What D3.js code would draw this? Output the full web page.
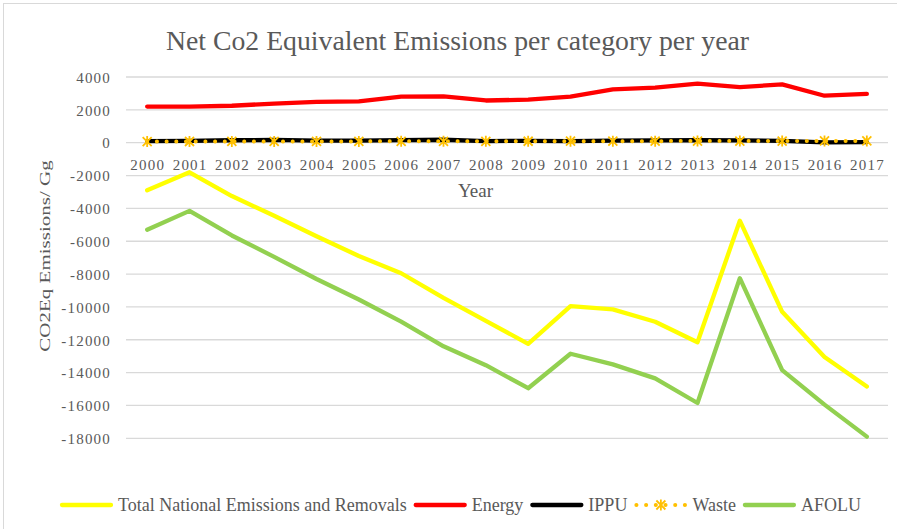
<!DOCTYPE html>
<html>
<head>
<meta charset="utf-8">
<script src="https://cdn.jsdelivr.net/npm/d3@7/dist/d3.min.js"></script>
<style>
  body { margin: 0; background: #fff; }
  svg { display: block; }
</style>
</head>
<body>
<div class="box"></div>
<script>
let years = ["2000", "2001", "2002", "2003", "2004", "2005", "2006", "2007", "2008",
             "2009", "2010", "2011", "2012", "2013", "2014", "2015", "2016", "2017"]

let total = [-2900, -1800, -3250, -4450, -5700, -6900, -7950, -9450, -10850,
             -12250, -9950, -10150, -10900, -12150, -4750, -10300, -13050, -14850]
let energy = [2200, 2200, 2250, 2380, 2480, 2520, 2800, 2820, 2570,
              2620, 2800, 3250, 3350, 3600, 3380, 3550, 2860, 2970]
let ippu = [100, 110, 150, 170, 130, 120, 160, 180, 100,
            110, 100, 130, 140, 150, 140, 110, 20, 40]
let waste = [70, 72, 75, 74, 78, 80, 83, 85, 84,
             88, 90, 93, 95, 97, 99, 102, 104, 106]
let afolu = [-5300, -4150, -5650, -6950, -8300, -9550, -10900, -12400, -13550,
             -14950, -12850, -13500, -14350, -15850, -8250, -13850, -15950, -17900]

let yTicks = [4000, 2000, 0, -2000, -4000, -6000, -8000, -10000, -12000,
              -14000, -16000, -18000]

let series = [
    {name: "Total National Emissions and Removals", values: total, color: "#ffff00", kind: "line"},
    {name: "Energy", values: energy, color: "#ff0000", kind: "line"},
    {name: "IPPU", values: ippu, color: "#000000", kind: "line"},
    {name: "Waste", values: waste, color: "#ffc000", kind: "dots"},
    {name: "AFOLU", values: afolu, color: "#92d050", kind: "line"},
]

let W = 897
let H = 529
let textCol = "#595959"
let serif = "'Liberation Serif', 'Times New Roman', serif"

let svg = d3.select('.box')
    .append("svg")
    .attr("width", W)
    .attr("height", H)

// chart border (runs off the right / bottom edge)
svg.append("rect")
    .attr("x", 3.5).attr("y", 3.5)
    .attr("width", W + 20).attr("height", H + 20)
    .style("fill", "none")
    .style("stroke", "#d9d9d9")
    .style("stroke-width", 1)

let x = d3.scaleBand().domain(years).range([126, 888])
let y = d3.scaleLinear().domain([-18000, 4000]).range([438.3, 77])
let cx = d => x(d) + x.bandwidth() / 2

// gridlines
svg.append("g")
    .selectAll("line")
    .data(yTicks)
    .join("line")
    .attr("x1", 126).attr("x2", 888)
    .attr("y1", d => y(d)).attr("y2", d => y(d))
    .style("stroke", "#d9d9d9")
    .style("stroke-width", 1.3)

// y axis labels (plain hyphen for negatives, as in the original)
let yAxis = svg.append("g")
    .attr("transform", "translate(111,0)")
    .call(d3.axisLeft(y).tickValues(yTicks).tickSize(0).tickPadding(0).tickFormat(d => String(d)))
yAxis.select(".domain").remove()
yAxis.selectAll("text")
    .style("font-family", serif)
    .style("font-size", "15px")
    .style("letter-spacing", "1.2px")
    .style("fill", textCol)
    .attr("dy", "0.35em")

// x axis labels sit under the zero line
let xAxis = svg.append("g")
    .attr("transform", `translate(0,${y(0)})`)
    .call(d3.axisBottom(x).tickSize(0).tickPadding(0))
xAxis.select(".domain").remove()
xAxis.selectAll("text")
    .attr("y", 27.5)
    .attr("dy", 0)
    .attr("x", 0.6)
    .style("font-family", serif)
    .style("font-size", "15px")
    .style("letter-spacing", "1.2px")
    .style("fill", textCol)

// lines
let line = d3.line()
    .x((d, i) => cx(years[i]))
    .y(d => y(d))

series.forEach(s => {
    if (s.kind == "line") {
        svg.append("path")
            .datum(s.values)
            .attr("d", line)
            .style("fill", "none")
            .style("stroke", s.color)
            .style("stroke-width", 4.3)
            .style("stroke-linejoin", "round")
            .style("stroke-linecap", "round")
    } else {
        svg.append("path")
            .datum(s.values)
            .attr("d", line)
            .style("fill", "none")
            .style("stroke", s.color)
            .style("stroke-width", 4)
            .style("stroke-linecap", "round")
            .style("stroke-dasharray", "0.1 9.6")
        svg.append("g")
            .selectAll("path")
            .data(s.values)
            .join("path")
            .attr("transform", (d, i) => `translate(${cx(years[i])},${y(d)})`)
            .attr("d", "M-4.5,-4.5L4.5,4.5M-4.5,4.5L4.5,-4.5M0,-5.5L0,5.5")
            .style("stroke", s.color)
            .style("stroke-width", 1.8)
    }
})

// title
svg.append("text")
    .attr("x", 457.5).attr("y", 50)
    .attr("text-anchor", "middle")
    .attr("textLength", 583)
    .attr("lengthAdjust", "spacingAndGlyphs")
    .style("font-family", serif)
    .style("font-size", "27px")
    .style("fill", textCol)
    .text("Net Co2 Equivalent Emissions per category per year")

// axis titles
svg.append("text")
    .attr("x", 475.5).attr("y", 197)
    .attr("text-anchor", "middle")
    .style("font-family", serif)
    .style("font-size", "19px")
    .style("fill", textCol)
    .text("Year")

svg.append("text")
    .attr("transform", "translate(50,256) scale(0.74,1) rotate(-90)")
    .attr("text-anchor", "middle")
    .style("font-family", serif)
    .style("font-size", "21px")
    .style("fill", textCol)
    .text("CO2Eq Emissions/ Gg")

// legend
let lg = svg.append("g")
let lx = 60
let ly = 505
series.forEach(s => {
    if (s.kind == "line") {
        lg.append("line")
            .attr("x1", lx + 2).attr("x2", lx + 51)
            .attr("y1", ly).attr("y2", ly)
            .style("stroke", s.color)
            .style("stroke-width", 4.3)
            .style("stroke-linecap", "round")
    } else {
        lg.append("line")
            .attr("x1", lx + 2).attr("x2", lx + 51)
            .attr("y1", ly).attr("y2", ly)
            .style("stroke", s.color)
            .style("stroke-width", 4)
            .style("stroke-linecap", "round")
            .style("stroke-dasharray", "0.1 9.6")
        lg.append("path")
            .attr("transform", `translate(${lx + 26.5},${ly})`)
            .attr("d", "M-4.5,-4.5L4.5,4.5M-4.5,4.5L4.5,-4.5M0,-5.5L0,5.5")
            .style("stroke", s.color)
            .style("stroke-width", 1.8)
    }
    let t = lg.append("text")
        .attr("x", lx + 58).attr("y", ly + 6)
        .style("font-family", serif)
        .style("font-size", "18px")
        .style("fill", textCol)
        .text(s.name)
    lx = lx + 58 + t.node().getComputedTextLength() + 7
})
</script>
</body>
</html>
